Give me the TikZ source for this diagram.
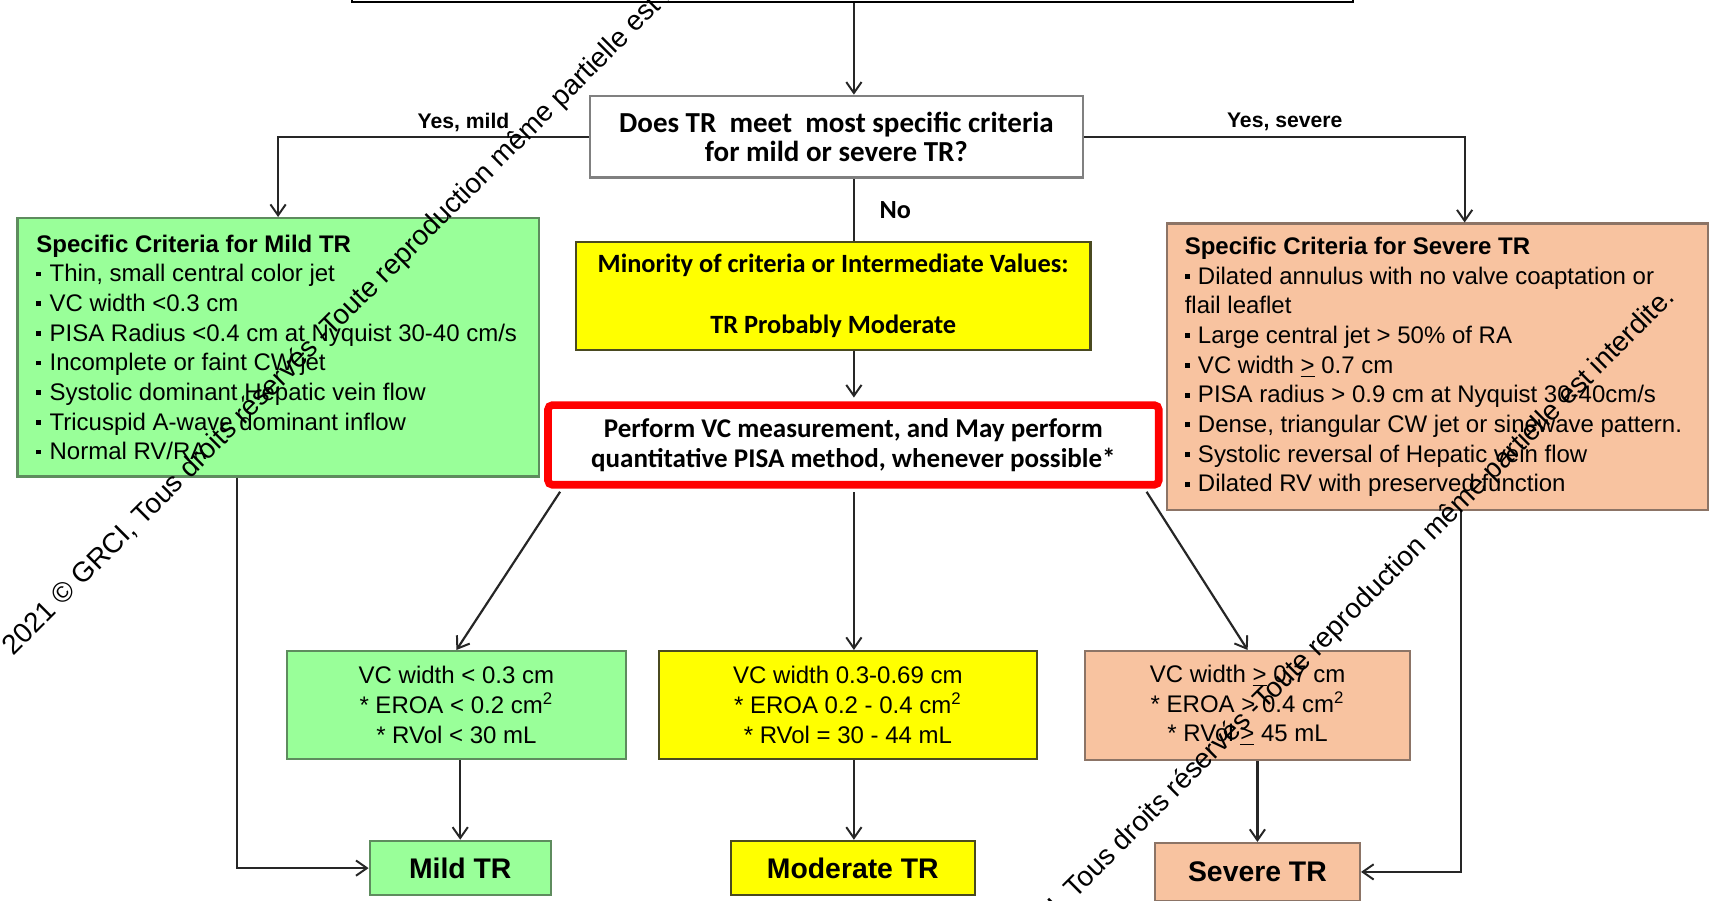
\documentclass[tikz,border=0pt]{standalone}
\usepackage{fontspec}
\setmainfont{Liberation Sans}
\newfontfamily\cali{Carlito}
\usetikzlibrary{arrows.meta,calc}
\definecolor{grn}{HTML}{99FF99}
\definecolor{grnB}{HTML}{5E8C5E}
\definecolor{yel}{HTML}{FFFF00}
\definecolor{yelB}{HTML}{4A4A20}
\definecolor{pch}{HTML}{F8C3A0}
\definecolor{pchB}{HTML}{8C7466}
\definecolor{qB}{HTML}{808080}
\definecolor{redB}{HTML}{FF0000}
\newcommand\ftxt{\fontsize{11}{13.6}\selectfont}
\newcommand\bul{\rule[0.22em]{0.2em}{0.2em}\hspace{0.35em}}
\begin{document}
\begin{tikzpicture}[x=0.5pt,y=-0.5pt,
  conn/.style={line width=1pt, draw=black!85},
  arr/.style={conn, -{Straight Barb[length=5pt,width=7pt,line width=0.9pt]}},
  gbox/.style={draw=grnB, fill=grn, line width=1pt, inner sep=0pt},
  ybox/.style={draw=yelB, fill=yel, line width=1pt, inner sep=0pt},
  pbox/.style={draw=pchB, fill=pch, line width=1pt, inner sep=0pt},
  crit/.style={anchor=west, align=left, inner sep=0pt, font=\ftxt},
  lbl/.style={font=\bfseries\fontsize{9.7}{11}\selectfont, inner sep=0pt},
  wm/.style={font=\fontsize{12.8}{14}\selectfont, inner sep=0pt, rotate=45, anchor=base west}]
\useasboundingbox (0,0) rectangle (1568,826);
\fill[white] (0,0) rectangle (1568,826);
\clip (0,0) rectangle (1568,826);

\coordinate (cx) at (783,0);
\coordinate (sx) at (1343,0);
\coordinate (lx) at (217,0);
\coordinate (rx) at (1340,0);

% top (cut) box
\node[draw, line width=1pt, minimum width=459pt, minimum height=40pt, anchor=south west, inner sep=0pt] (top) at (322,3) {};

% question
\node[draw=qB, line width=1.2pt, fill=white, minimum width=226pt, minimum height=37.5pt, inner sep=0pt, align=center,
  font=\cali\bfseries\fontsize{13.3}{13.6}\selectfont] (q) at (767,125.5)
  {Does TR\ \ meet\ \ most specific criteria\\for mild or severe TR?};

% criteria boxes
\node[gbox, minimum width=239pt, minimum height=118.5pt] (mildc) at (255,318.5) {};
\node[crit] (mildt) at ($(mildc.west)+(18,0)$)
  {\textbf{Specific Criteria for Mild TR}\\
   \bul Thin, small central color jet\\
   \bul VC width <0.3 cm\\
   \bul PISA Radius <0.4 cm at Nyquist 30-40 cm/s\\
   \bul Incomplete or faint CW jet\\
   \bul Systolic dominant Hepatic vein flow\\
   \bul Tricuspid A-wave dominant inflow\\
   \bul Normal RV/RA};

\node[pbox, minimum width=248pt, minimum height=131.5pt] (sevc) at (1318,336.5) {};
\node[crit] (sevt) at ($(sevc.west)+(17,0)$)
  {\textbf{Specific Criteria for Severe TR}\\
   \bul Dilated annulus with no valve coaptation or\\
   flail leaflet\\
   \bul Large central jet > 50\% of RA\\
   \bul VC width \underline{>} 0.7 cm\\
   \bul PISA radius > 0.9 cm at Nyquist 30-40cm/s\\
   \bul Dense, triangular CW jet or sinewave pattern.\\
   \bul Systolic reversal of Hepatic vein flow\\
   \bul Dilated RV with preserved function};

\node[ybox, minimum width=236pt, minimum height=49.5pt, align=center,
  font=\cali\bfseries\fontsize{12.1}{14}\selectfont] (yel) at (764,271.5)
  {Minority of criteria or Intermediate Values:\\[14pt]TR Probably Moderate};

% red box
\node[draw=redB, line width=3.5pt, fill=white, rounded corners=2pt, minimum width=280pt, minimum height=36.5pt, inner sep=0pt,
  align=center, font=\cali\bfseries\fontsize{12.4}{14}\selectfont] (red) at (782.5,408)
  {Perform VC measurement, and May perform\\quantitative PISA method, whenever possible*};

% bottom value boxes
\node[gbox, minimum width=155.5pt, minimum height=49.5pt, align=center, font=\ftxt] (mv) at (418.5,646.5)
  {VC width < 0.3 cm\\* EROA < 0.2 cm\textsuperscript{2}\\* RVol < 30 mL};
\node[ybox, minimum width=173.5pt, minimum height=49.5pt, align=center, font=\ftxt] (modv) at (777.5,646.5)
  {VC width 0.3-0.69 cm\\* EROA 0.2 - 0.4 cm\textsuperscript{2}\\* RVol = 30 - 44 mL};
\node[pbox, minimum width=149pt, minimum height=50pt, align=center, font=\ftxt] (sv) at (1144,647)
  {VC width \underline{>} 0.7 cm\\* EROA > 0.4 cm\textsuperscript{2}\\* RVol \underline{>} 45 mL};

% final boxes
\node[gbox, minimum width=83pt, minimum height=25pt, font=\bfseries\fontsize{13}{15}\selectfont] (mt) at (422,796) {Mild TR};
\node[ybox, minimum width=112pt, minimum height=25pt, font=\bfseries\fontsize{13}{15}\selectfont] (modt) at (782,796) {Moderate TR};
\node[pbox, minimum width=94pt, minimum height=26.5pt, font=\bfseries\fontsize{13}{15}\selectfont] (st) at (1153,799.5) {Severe TR};

% connectors
\draw[arr] (top.south -| cx) -- (q.north -| cx);
\draw[arr] (q.west) -| (mildc.north);
\draw[arr] (q.east) -| (sevc.north -| sx);
\draw[conn] (q.south -| cx) -- (yel.north -| cx);
\draw[arr, shorten >=1.75pt] (yel.south -| cx) -- (red.north -| cx);
\draw[arr, shorten <=1.75pt] ($(red.south west)+(16.5,0)$) -- (mv.north);
\draw[arr, shorten <=1.75pt] (red.south -| cx) -- (modv.north -| cx);
\draw[arr, shorten <=1.75pt] ($(red.south east)+(-16.5,0)$) -- (sv.north);
\draw[arr] (mv.south -| mt) -- (mt.north);
\draw[arr] (modv.south -| cx) -- (modt.north -| cx);
\draw[arr] (sv.south -| st) -- (st.north);
\draw[arr] (mildc.south -| lx) |- (mt.west);
\draw[arr] (sevc.south -| rx) |- (st.east);

\node[lbl] (ym) at (425,112) {Yes, mild};
\node[lbl] (ys) at (1178,112) {Yes, severe};
\node[font=\cali\bfseries\fontsize{12}{14}\selectfont, inner sep=0pt] (no) at (821,193) {No};

% watermarks
\node[wm] (wm1) at (12,602) {2021 © GRCI, Tous droits réservés -Toute reproduction même partielle est interdite.};
\node[wm] (wm2) at (867,944) {2021 © GRCI, Tous droits réservés -Toute reproduction même partielle est interdite.};
\end{tikzpicture}
\end{document}
